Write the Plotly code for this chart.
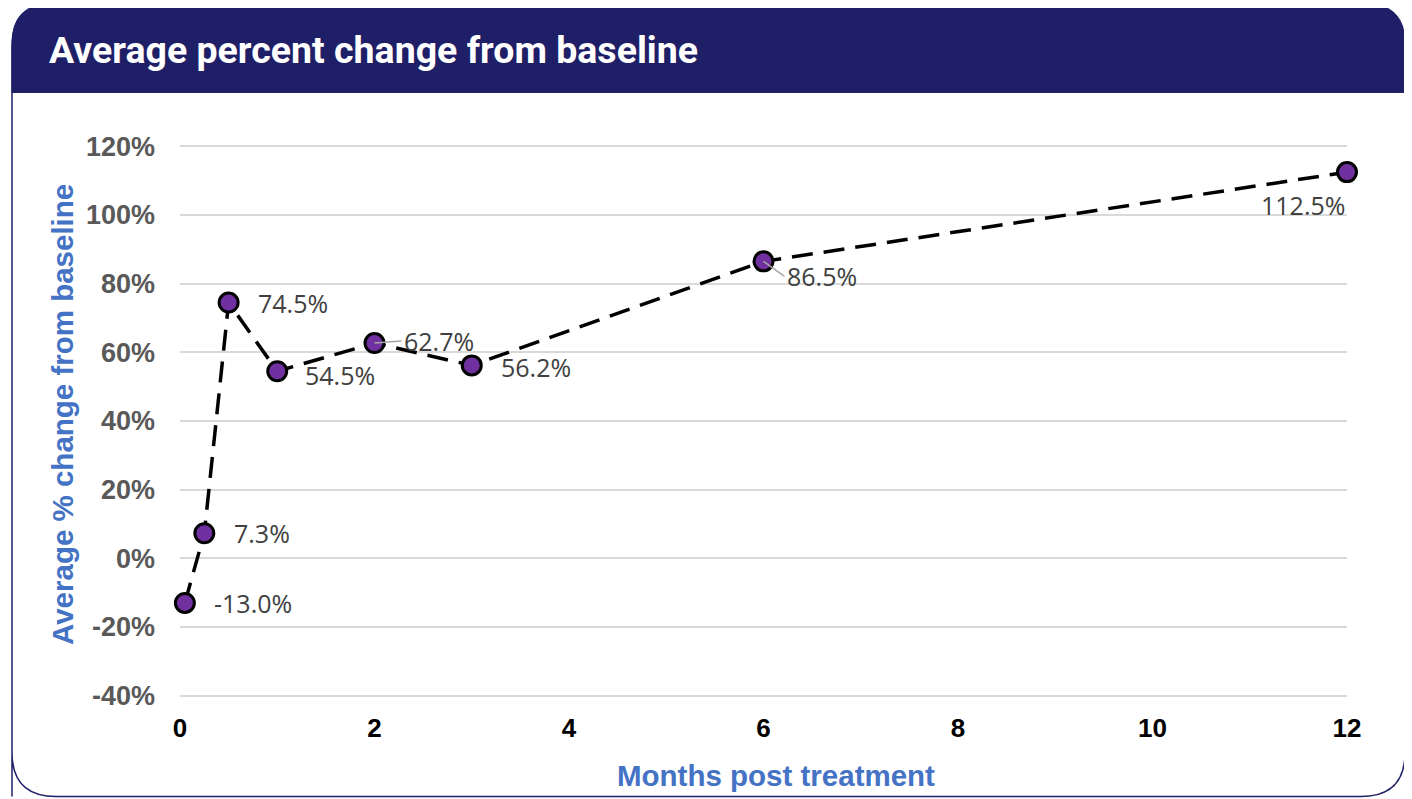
import plotly.graph_objects as go

# ---- data ----
months = [0.05, 0.25, 0.5, 1, 2, 3, 6, 12]
pct_change = [-13.0, 7.3, 74.5, 54.5, 62.7, 56.2, 86.5, 112.5]
y_ticks = [-40, -20, 0, 20, 40, 60, 80, 100, 120]
y_tick_labels = [f"{v}%" for v in y_ticks]
x_ticks = [0, 2, 4, 6, 8, 10, 12]

title_text = "Average percent change from baseline"
x_title = "Months post treatment"
y_title = "Average % change from baseline"

# label placement (pixel offsets relative to point)
label_dx = [27, 28, 27, 26, 27, 27, 21, 0]
label_dy = [0, 0, 0, -4, 2, -2, -15, -33]
label_anchor = ["left"] * 7 + ["right"]
leader = [False, False, False, False, True, False, True, False]

# page body has an 8px margin: work in reference-pixel coordinates and shift
OFF = 8
PAD = 0.4  # % of axis padding so edge gridlines are drawn
PXPCT = 550 / 160
W, H = 1412 - OFF, 799 - OFF
L, R = 180 - OFF, 1347 - OFF
T = 146 - OFF - PAD * PXPCT
B = 696 - OFF + PAD * PXPCT

def px(x):
    return ((x - OFF) - L) / (R - L)

def py(y):
    return (B - (y - OFF)) / (B - T)

fig = go.Figure()
fig.add_trace(go.Scatter(
    x=months, y=pct_change, mode="lines+markers",
    line=dict(color="black", width=3.5, dash="21px,11px"),
    marker=dict(size=19, color="#7030A0", line=dict(color="black", width=3)),
    cliponaxis=False, hoverinfo="skip", showlegend=False,
))

annotations = []
for xv, yv, dx, dy, anc, ld in zip(months, pct_change, label_dx, label_dy, label_anchor, leader):
    txt = f"{yv:.1f}%"
    if ld:
        annotations.append(dict(
            x=xv, y=yv, xref="x", yref="y", text=txt, showarrow=True,
            ax=dx, ay=-dy, axref="pixel", ayref="pixel", xanchor="left", yanchor="middle",
            arrowhead=0, arrowwidth=1.5, arrowcolor="#A6A6A6", standoff=0,
            font=dict(family="Open Sans", size=25, color="#404040"),
        ))
    else:
        annotations.append(dict(
            x=xv, y=yv, xref="x", yref="y", text=txt, showarrow=False,
            xanchor=anc, yanchor="middle", xshift=dx, yshift=dy,
            font=dict(family="Open Sans", size=25, color="#404040"),
        ))

# title & axis titles
annotations.append(dict(
    x=px(47), y=py(49), xref="paper", yref="paper", text=f"<b>{title_text}</b>",
    showarrow=False, xanchor="left", yanchor="middle",
    font=dict(family="Roboto", size=37.5, color="white"),
))
annotations.append(dict(
    x=px(776), y=py(776), xref="paper", yref="paper", text=f"<b>{x_title}</b>",
    showarrow=False, xanchor="center", yanchor="middle",
    font=dict(family="Liberation Sans", size=29.5, color="#4472C4"),
))
annotations.append(dict(
    x=px(62), y=py(415), xref="paper", yref="paper", text=f"<b>{y_title}</b>",
    showarrow=False, xanchor="center", yanchor="middle", textangle=-90,
    font=dict(family="Liberation Sans", size=29.5, color="#4472C4"),
))

def rounded_path(x0, y0, x1, y1, r, top_only=False):
    pts = []
    pts.append(f"M {px(x0)},{py(y1)}")
    pts.append(f"L {px(x0)},{py(y0 + r)}")
    pts.append(f"Q {px(x0)},{py(y0)} {px(x0 + r)},{py(y0)}")
    pts.append(f"L {px(x1 - r)},{py(y0)}")
    pts.append(f"Q {px(x1)},{py(y0)} {px(x1)},{py(y0 + r)}")
    if top_only:
        pts.append(f"L {px(x1)},{py(y1)}")
        pts.append("Z")
    else:
        pts.append(f"L {px(x1)},{py(y1 - r)}")
        pts.append(f"Q {px(x1)},{py(y1)} {px(x1 - r)},{py(y1)}")
        pts.append(f"L {px(x0 + r)},{py(y1)}")
        pts.append(f"Q {px(x0)},{py(y1)} {px(x0)},{py(y1 - r)}")
        pts.append("Z")
    return " ".join(pts)

shapes = [
    dict(type="path", xref="paper", yref="paper", path=rounded_path(12, 3, 1405, 797, 44),
         line=dict(color="#1F1F67", width=1.5), fillcolor="rgba(0,0,0,0)", layer="below"),
    dict(type="path", xref="paper", yref="paper", path=rounded_path(12, 3, 1405, 92, 40, top_only=True),
         line=dict(color="#1F1F67", width=1), fillcolor="#1F1F67", layer="below"),
]

fig.update_layout(
    width=W, height=H,
    margin=dict(l=L, r=W - R, t=T, b=H - B),
    paper_bgcolor="white", plot_bgcolor="white",
    annotations=annotations, shapes=shapes,
    xaxis=dict(range=[0, 12], tickvals=x_ticks, showgrid=False, zeroline=False,
               showline=False, ticks="", ticklabelstandoff=13,
               tickfont=dict(family="Liberation Sans", size=26, color="black", weight="bold")),
    yaxis=dict(range=[-40 - PAD, 120 + PAD], tickvals=y_ticks, ticktext=y_tick_labels,
               showgrid=True, gridcolor="#D9D9D9", gridwidth=2, zeroline=False,
               showline=False, ticks="", ticklabelstandoff=24,
               tickfont=dict(family="Liberation Sans", size=27, color="#595959", weight="bold")),
)

fig.write_html("out.html")
